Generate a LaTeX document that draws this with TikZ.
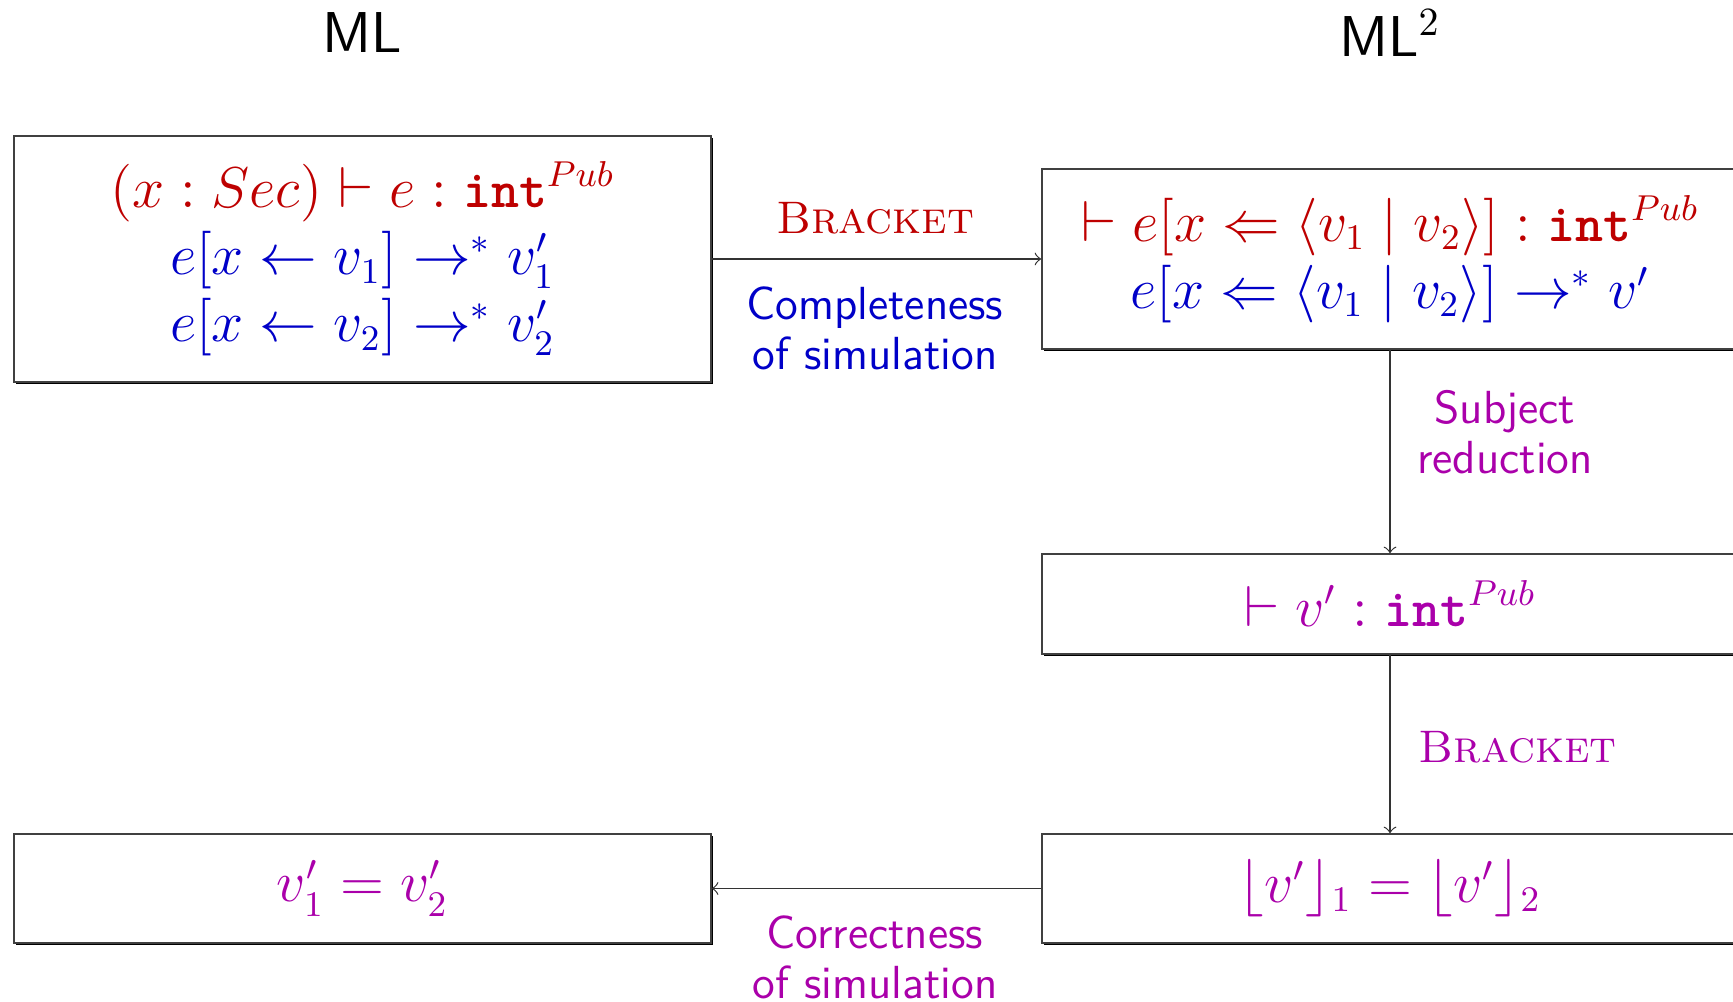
\documentclass[tikz,border=0pt]{standalone}
\usetikzlibrary{shadows}
\definecolor{cred}{RGB}{190,0,0}
\definecolor{cblue}{RGB}{0,0,200}
\definecolor{cmag}{RGB}{170,0,170}
\newcommand{\tint}{\mbox{\ttfamily\bfseries int}}
\begin{document}
\begin{tikzpicture}[x=0.25pt,y=-0.25pt,
  box/.style={draw=black!75,line width=0.4pt,fill=white,inner sep=0pt,align=center,
    font=\fontsize{13.3}{16.75}\selectfont,
    drop shadow={shadow xshift=0.5pt,shadow yshift=-0.5pt,fill=black,opacity=1}},
  title/.style={font=\Large\sffamily},
  lab/.style={font=\fontsize{11.6}{12.5}\selectfont\sffamily,align=center},
  rule/.style={font=\fontsize{11.4}{13}\selectfont},
  conn/.style={->,draw=black!80,line width=0.3pt}]
\useasboundingbox (0,0) rectangle (1733,1002);
\node[title] (tml) at (362,33) {ML};
\node[title] (tml2) at (1390,33) {ML$^2$};

\node[box,minimum width=174.25pt,minimum height=61.5pt] (L1) at (362.5,259)
 {\color{cred}$(x:Sec)\vdash e:\tint^{Pub}$\\
  \color{cblue}$e[x\leftarrow v_1]\rightarrow^* v_1'$\\
  \color{cblue}$e[x\leftarrow v_2]\rightarrow^* v_2'$};
\node[box,minimum width=174pt,minimum height=45pt] (R1) at (1390,259)
 {\color{cred}$\vdash e[x\Leftarrow\langle v_1\mid v_2\rangle]:\tint^{Pub}$\\
  \color{cblue}$e[x\Leftarrow\langle v_1\mid v_2\rangle]\rightarrow^* v'$};
\node[box,minimum width=174pt,minimum height=25pt,text=cmag] (R2) at (1390,604)
 {$\vdash v':\tint^{Pub}$};
\node[box,minimum width=174pt,minimum height=27.25pt,text=cmag] (R3) at (1390,888.5)
 {$\lfloor v'\rfloor_1=\lfloor v'\rfloor_2$};
\node[box,minimum width=174.25pt,minimum height=27.25pt,text=cmag] (L2) at (362.5,888.5)
 {$v_1'=v_2'$};

\draw[conn] (L1.east) -- (R1.west);
\draw[conn] (R1.south) -- (R2.north);
\draw[conn] (R2.south) -- (R3.north);
\draw[conn] (R3.west) -- (L2.east);

\node[rule,text=cred] (b1) at (875,218) {\textsc{Bracket}};
\node[lab,text=cblue] (c1) at (875,328) {Completeness\\of simulation};
\node[lab,text=cmag] (s1) at (1505,432) {Subject\\reduction};
\node[rule,text=cmag,anchor=west,inner sep=0pt] (b2) at (1418,747) {\textsc{Bracket}};
\node[lab,text=cmag] (c2) at (875,957) {Correctness\\of simulation};
\end{tikzpicture}
\end{document}
